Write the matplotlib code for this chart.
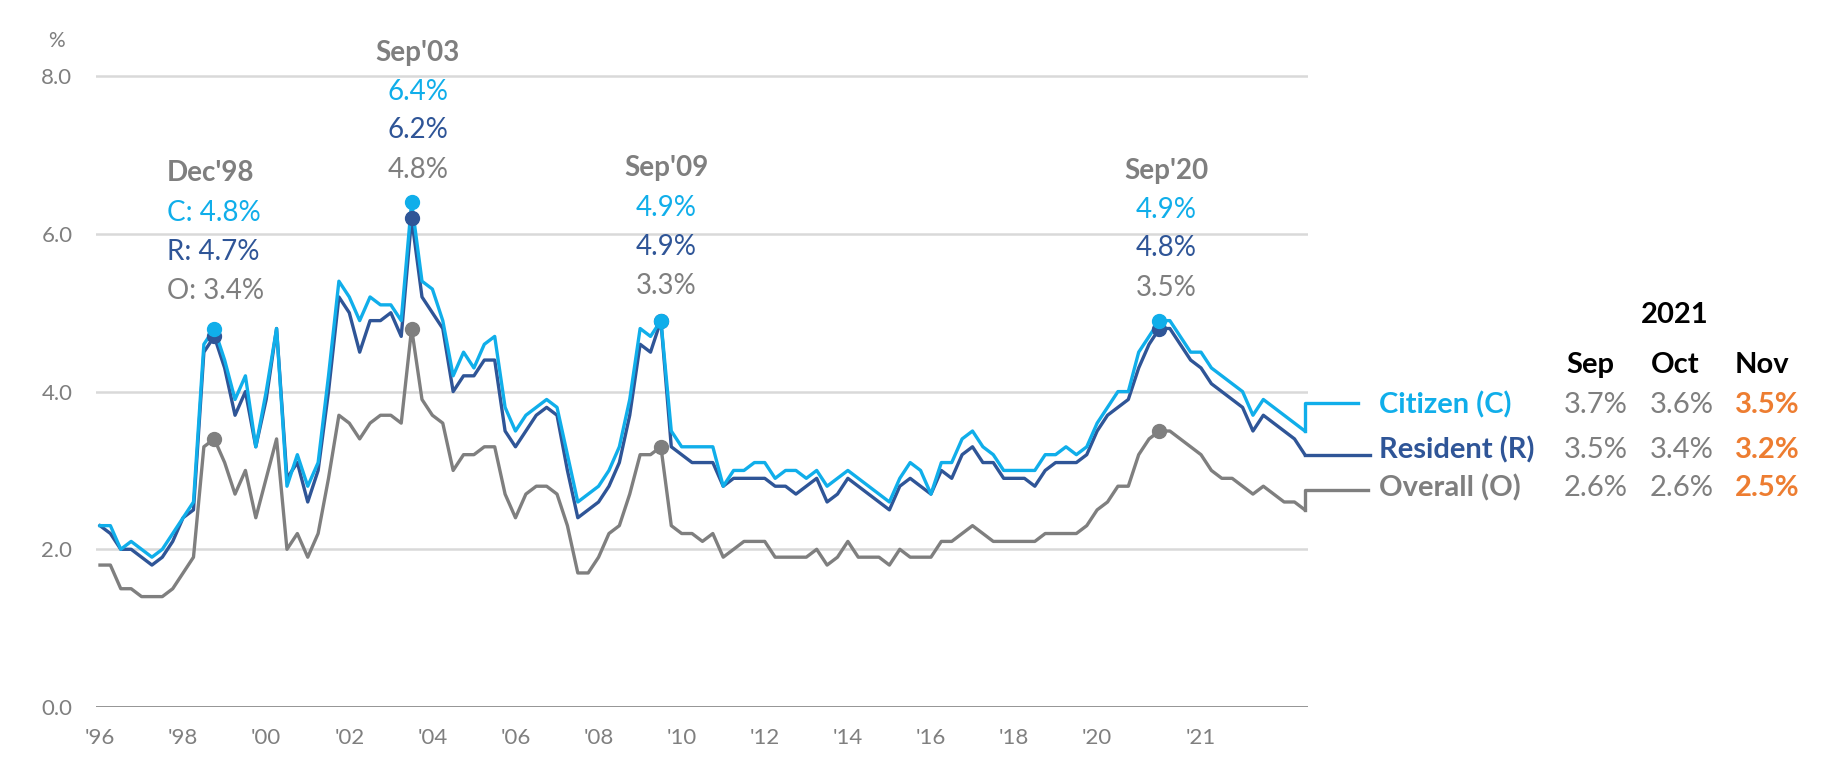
import matplotlib
matplotlib.use("Agg")
import matplotlib.pyplot as plt

plt.rcParams['font.family'] = ['Lato', 'DejaVu Sans']

# ---------------- data ----------------
# index 0..96 quarterly (Mar'96 .. Mar'20), 97..116 monthly (Apr'20 .. Nov'21)
citizen = [2.3, 2.3, 2.0, 2.1, 2.0, 1.9, 2.0, 2.2, 2.4, 2.6,
           4.6, 4.8, 4.4, 3.9, 4.2, 3.3, 4.0, 4.8, 2.8, 3.2,
           2.8, 3.1, 4.2, 5.4, 5.2, 4.9, 5.2, 5.1, 5.1, 4.9,
           6.4, 5.4, 5.3, 4.9, 4.2, 4.5, 4.3, 4.6, 4.7, 3.8,
           3.5, 3.7, 3.8, 3.9, 3.8, 3.2, 2.6, 2.7, 2.8, 3.0,
           3.3, 3.9, 4.8, 4.7, 4.9, 3.5, 3.3, 3.3, 3.3, 3.3,
           2.8, 3.0, 3.0, 3.1, 3.1, 2.9, 3.0, 3.0, 2.9, 3.0,
           2.8, 2.9, 3.0, 2.9, 2.8, 2.7, 2.6, 2.9, 3.1, 3.0,
           2.7, 3.1, 3.1, 3.4, 3.5, 3.3, 3.2, 3.0, 3.0, 3.0,
           3.0, 3.2, 3.2, 3.3, 3.2, 3.3, 3.6, 3.8, 4.0, 4.0,
           4.5, 4.7, 4.9, 4.9, 4.7, 4.5, 4.5, 4.3, 4.2, 4.1,
           4.0, 3.7, 3.9, 3.8, 3.7, 3.6, 3.5]
resident = [2.3, 2.2, 2.0, 2.0, 1.9, 1.8, 1.9, 2.1, 2.4, 2.5,
            4.5, 4.7, 4.3, 3.7, 4.0, 3.3, 3.9, 4.8, 2.9, 3.1,
            2.6, 3.0, 4.0, 5.2, 5.0, 4.5, 4.9, 4.9, 5.0, 4.7,
            6.2, 5.2, 5.0, 4.8, 4.0, 4.2, 4.2, 4.4, 4.4, 3.5,
            3.3, 3.5, 3.7, 3.8, 3.7, 3.0, 2.4, 2.5, 2.6, 2.8,
            3.1, 3.7, 4.6, 4.5, 4.9, 3.3, 3.2, 3.1, 3.1, 3.1,
            2.8, 2.9, 2.9, 2.9, 2.9, 2.8, 2.8, 2.7, 2.8, 2.9,
            2.6, 2.7, 2.9, 2.8, 2.7, 2.6, 2.5, 2.8, 2.9, 2.8,
            2.7, 3.0, 2.9, 3.2, 3.3, 3.1, 3.1, 2.9, 2.9, 2.9,
            2.8, 3.0, 3.1, 3.1, 3.1, 3.2, 3.5, 3.7, 3.8, 3.9,
            4.3, 4.6, 4.8, 4.8, 4.6, 4.4, 4.3, 4.1, 4.0, 3.9,
            3.8, 3.5, 3.7, 3.6, 3.5, 3.4, 3.2]
overall = [1.8, 1.8, 1.5, 1.5, 1.4, 1.4, 1.4, 1.5, 1.7, 1.9,
           3.3, 3.4, 3.1, 2.7, 3.0, 2.4, 2.9, 3.4, 2.0, 2.2,
           1.9, 2.2, 2.9, 3.7, 3.6, 3.4, 3.6, 3.7, 3.7, 3.6,
           4.8, 3.9, 3.7, 3.6, 3.0, 3.2, 3.2, 3.3, 3.3, 2.7,
           2.4, 2.7, 2.8, 2.8, 2.7, 2.3, 1.7, 1.7, 1.9, 2.2,
           2.3, 2.7, 3.2, 3.2, 3.3, 2.3, 2.2, 2.2, 2.1, 2.2,
           1.9, 2.0, 2.1, 2.1, 2.1, 1.9, 1.9, 1.9, 1.9, 2.0,
           1.8, 1.9, 2.1, 1.9, 1.9, 1.9, 1.8, 2.0, 1.9, 1.9,
           1.9, 2.1, 2.1, 2.2, 2.3, 2.2, 2.1, 2.1, 2.1, 2.1,
           2.1, 2.2, 2.2, 2.2, 2.2, 2.3, 2.5, 2.6, 2.8, 2.8,
           3.2, 3.4, 3.5, 3.5, 3.4, 3.3, 3.2, 3.0, 2.9, 2.9,
           2.8, 2.7, 2.8, 2.7, 2.6, 2.6, 2.5]

tick_pos = [0, 8, 16, 24, 32, 40, 48, 56, 64, 72, 80, 88, 96, 106]
tick_labels = ["'96", "'98", "'00", "'02", "'04", "'06", "'08", "'10",
               "'12", "'14", "'16", "'18", "'20", "'21"]

peak_idx = [11, 30, 54, 102]
peak_names = ["Dec'98", "Sep'03", "Sep'09", "Sep'20"]

months = ["Sep", "Oct", "Nov"]
tbl_c = ["3.7%", "3.6%", "3.5%"]
tbl_r = ["3.5%", "3.4%", "3.2%"]
tbl_o = ["2.6%", "2.6%", "2.5%"]

C_COL = '#10AEEA'
R_COL = '#2F5597'
O_COL = '#7F7F7F'
TXT_GRAY = '#7F7F7F'
ORANGE = '#ED7D31'

W, H = 1843, 776
fig = plt.figure(figsize=(W / 100, H / 100), dpi=100)
ax = fig.add_axes([96 / W, (H - 707) / H, (1308 - 96) / W, (707 - 68.3) / H])

x = list(range(len(citizen)))
ax.set_xlim(-0.385, 116.3)
ax.set_ylim(0, 8.1)

for v in [2, 4, 6, 8]:
    ax.axhline(v, color='#D9D9D9', lw=1.8, zorder=0)
ax.axhline(0, color='#8C8C8C', lw=1.3, zorder=0)
for s in ax.spines.values():
    s.set_visible(False)

LW = 2.4
ax.plot(x, overall, color=O_COL, lw=LW, zorder=2)
ax.plot(x, resident, color=R_COL, lw=LW, zorder=3)
ax.plot(x, citizen, color=C_COL, lw=LW, zorder=4)

# legend connector lines
last = len(citizen) - 1
ax.plot([last, last, 121.1], [citizen[-1], 3.85, 3.85], color=C_COL, lw=LW, clip_on=False)
ax.plot([last, 122.3], [resident[-1], resident[-1]], color=R_COL, lw=LW, clip_on=False)
ax.plot([last, last, 122.1], [overall[-1], 2.75, 2.75], color=O_COL, lw=LW, clip_on=False)

for i in peak_idx:
    ax.plot([i], [overall[i]], 'o', color=O_COL, ms=10, zorder=5)
    ax.plot([i], [resident[i]], 'o', color=R_COL, ms=10, zorder=6)
    ax.plot([i], [citizen[i]], 'o', color=C_COL, ms=10, zorder=7)

ax.set_yticks([0, 2, 4, 6, 8])
ax.set_yticklabels([f"{v:.1f}" for v in [0, 2, 4, 6, 8]])
ax.set_xticks(tick_pos)
ax.set_xticklabels(tick_labels)
ax.tick_params(axis='both', length=0, labelsize=16, colors=TXT_GRAY)
ax.tick_params(axis='y', pad=17)
ax.tick_params(axis='x', pad=15)

fig.text(56 / W, 1 - 41 / H, '%', ha='center', va='center', fontsize=15, color=TXT_GRAY)

FS = 20
# annotations
blk = [(6.77, "Dec'98", TXT_GRAY, 'bold'),
       (6.26, f"C: {citizen[11]:.1f}%", C_COL, 'normal'),
       (5.77, f"R: {resident[11]:.1f}%", R_COL, 'normal'),
       (5.27, f"O: {overall[11]:.1f}%", TXT_GRAY, 'normal')]
for yv, t, c, w in blk:
    ax.text(6.45, yv, t, ha='left', va='center', fontsize=FS, color=c, fontweight=w)

centers = {30: (30.6, [8.30, 7.80, 7.32, 6.81]),
           54: (54.5, [6.83, 6.33, 5.83, 5.34]),
           102: (102.65, [6.80, 6.30, 5.82, 5.32])}
for i, name in zip(peak_idx[1:], peak_names[1:]):
    cx, ys = centers[i]
    ax.text(cx, ys[0], name, ha='center', va='center', fontsize=FS, color=TXT_GRAY, fontweight='bold')
    ax.text(cx, ys[1], f"{citizen[i]:.1f}%", ha='center', va='center', fontsize=FS, color=C_COL)
    ax.text(cx, ys[2], f"{resident[i]:.1f}%", ha='center', va='center', fontsize=FS, color=R_COL)
    ax.text(cx, ys[3], f"{overall[i]:.1f}%", ha='center', va='center', fontsize=FS, color=TXT_GRAY)

# legend labels
LFS = 21
rows_y = [405, 450, 488]
for yy, t, c in zip(rows_y, ['Citizen (C)', 'Resident (R)', 'Overall (O)'], [C_COL, R_COL, O_COL]):
    fig.text(1379 / W, 1 - yy / H, t, ha='left', va='center', fontsize=LFS, fontweight='bold', color=c)

# table
fig.text(1675 / W, 1 - 315 / H, '2021', ha='center', va='center', fontsize=LFS, fontweight='bold', color='black')
for xx, m in zip([1590, 1675, 1762], months):
    fig.text(xx / W, 1 - 365 / H, m, ha='center', va='center', fontsize=LFS, fontweight='bold', color='black')
for yy, vals in zip(rows_y, [tbl_c, tbl_r, tbl_o]):
    for k, (xx, v) in enumerate(zip([1596, 1682, 1767], vals)):
        if k == 2:
            fig.text(xx / W, 1 - yy / H, v, ha='center', va='center', fontsize=LFS, fontweight='bold', color=ORANGE)
        else:
            fig.text(xx / W, 1 - yy / H, v, ha='center', va='center', fontsize=LFS, color=TXT_GRAY)

fig.savefig('out.png', dpi=100, facecolor='white')
